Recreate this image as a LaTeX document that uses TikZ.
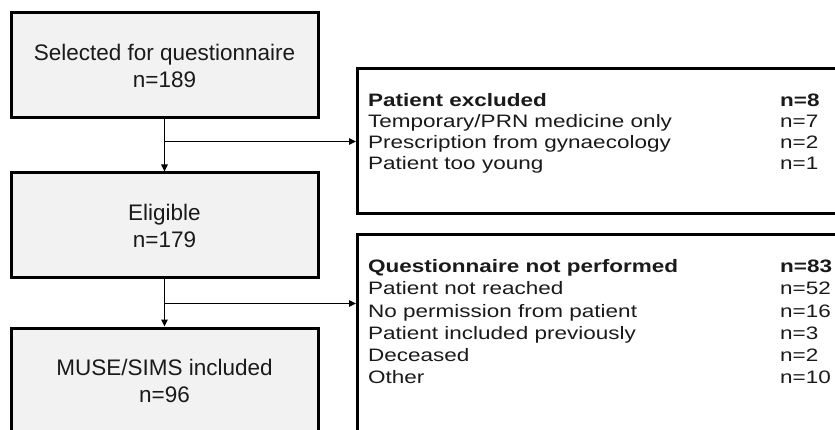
\documentclass[tikz,border=0pt]{standalone}
\usepackage{fontspec}
\setmainfont{Liberation Sans}
\usetikzlibrary{arrows.meta,calc}
\definecolor{boxgray}{HTML}{F2F2F2}
\definecolor{txt}{HTML}{1A1A1A}
\tikzset{
  lbox/.style={draw=black, line width=3pt, fill=boxgray, minimum width=307pt, minimum height=105pt,
    align=center, text=txt, inner sep=0pt, font=\fontsize{22.5}{27}\selectfont},
  rbox/.style={draw=black, line width=3pt, fill=white, minimum width=504pt, anchor=north west, inner sep=0pt},
  rtext/.style={anchor=north west, inner sep=0pt, text=txt},
  conn/.style={draw=black, line width=1.5pt, -{Triangle[length=7pt,width=6.5pt]}},
}
\begin{document}
\begin{tikzpicture}[x=1pt,y=-1pt]
\useasboundingbox (0,0) rectangle (835,430);
\clip (0,0) rectangle (835,430);
\fill[white] (0,0) rectangle (835,430);
% left column
\node[lbox] (sel) at (164.5,65.5) {Selected for questionnaire\\n=189};
\node[lbox] (eli) at (164.5,225.5) {Eligible\\n=179};
\node[lbox] (inc) at (164.5,380.5) {MUSE/SIMS included\\n=96};
% right boxes
\node[rbox, minimum height=145pt] (exc) at (356,67) {};
\node[rbox, minimum height=205pt] (np) at (356,233) {};
\node[rtext] (exct) at (368,92) {\scalebox{1}[0.8]{\fontsize{22.5}{26}\selectfont
\begin{tabular}{@{}p{412pt}@{}l@{}}
\textbf{Patient excluded} & \textbf{n=8}\\
Temporary/PRN medicine only & n=7\\
Prescription from gynaecology & n=2\\
Patient too young & n=1
\end{tabular}}};
\node[rtext] (npt) at (368,257) {\scalebox{1}[0.8]{\fontsize{22.5}{27.75}\selectfont
\begin{tabular}{@{}p{412pt}@{}l@{}}
\textbf{Questionnaire not performed} & \textbf{n=83}\\
Patient not reached & n=52\\
No permission from patient & n=16\\
Patient included previously & n=3\\
Deceased & n=2\\
Other & n=10
\end{tabular}}};
% connectors
\draw[conn] (sel.south) -- (eli.north);
\draw[conn] (eli.south) -- (inc.north);
\path (sel.south) ++(0,22) coordinate (j1);
\path (eli.south) ++(0,24) coordinate (j2);
\draw[conn] (j1) -- (j1 -| exc.west);
\draw[conn] (j2) -- (j2 -| np.west);
\end{tikzpicture}
\end{document}
